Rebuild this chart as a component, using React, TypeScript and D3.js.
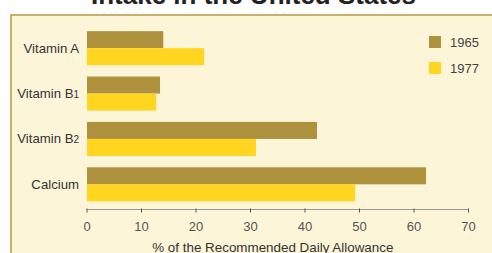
import React from "react";
import * as d3 from "d3";

const categories = ["Vitamin A", "Vitamin B1", "Vitamin B2", "Calcium"];
const labelMain = ["Vitamin A", "Vitamin B", "Vitamin B", "Calcium"];
const labelSub = ["", "1", "2", ""];
const series = ["1965", "1977"];
const values1965 = [14, 13.4, 42.2, 62.2];
const values1977 = [21.5, 12.7, 31, 49.2];
const xTicks = [0, 10, 20, 30, 40, 50, 60, 70];
const title = "Intake in the United States";
const xTitle = "% of the Recommended Daily Allowance";

const colors = ["#AD913D", "#FFD520"];
const W = 492;
const H = 253;

export default function App() {
  const x = d3.scaleLinear().domain([0, 70]).range([87, 468.5]);
  const y = d3
    .scaleBand<string>()
    .domain(categories)
    .range([25.5, 207])
    .paddingInner(0.25)
    .paddingOuter(0.125);
  const sub = d3.scaleBand<string>().domain(series).range([0, y.bandwidth()]);
  const data = [values1965, values1977];
  const font = "Liberation Sans, Arial, Helvetica, sans-serif";
  const axisY = 209.5;

  return (
    <svg
      width={W}
      height={H}
      style={{ position: "absolute", left: 0, top: 0, fontFamily: font }}
    >
      <rect x={0} y={0} width={W} height={H} fill="#ffffff" />
      <text
        x={253.5}
        y={4}
        textAnchor="middle"
        fontSize={26}
        fontWeight="bold"
        fill="#222"
      >
        {title}
      </text>
      <rect
        x={11}
        y={15}
        width={W + 10}
        height={H + 10}
        fill="#FDF5D8"
        stroke="#B8993F"
        strokeWidth={1.5}
      />
      {categories.map((c, i) => (
        <g key={c}>
          {series.map((s, j) => (
            <rect
              key={s}
              x={x(0)}
              y={(y(c) ?? 0) + (sub(s) ?? 0)}
              width={x(data[j][i]) - x(0)}
              height={sub.bandwidth()}
              fill={colors[j]}
            />
          ))}
          <text
            x={79}
            y={(y(c) ?? 0) + y.bandwidth() / 2}
            dy="0.33em"
            textAnchor="end"
            fontSize={13.2}
            fill="#333"
          >
            {labelMain[i]}
            {labelSub[i] && <tspan fontSize={10}>{labelSub[i]}</tspan>}
          </text>
        </g>
      ))}
      <line x1={x(0)} x2={x(70)} y1={axisY} y2={axisY} stroke="#9a9a9a" strokeWidth={1} />
      {xTicks.map((t) => (
        <g key={t}>
          <line x1={x(t)} x2={x(t)} y1={axisY - 1} y2={axisY + 3} stroke="#555" strokeWidth={1} />
          <text
            x={x(t)}
            y={226}
            dy="0.35em"
            textAnchor="middle"
            fontSize={13}
            fill="#555"
          >
            {t}
          </text>
        </g>
      ))}
      <text x={272.8} y={251.5} textAnchor="middle" fontSize={13.4} fill="#333">
        {xTitle}
      </text>
      {series.map((s, j) => (
        <g key={s}>
          <rect x={429} y={36 + j * 26} width={12} height={12} fill={colors[j]} />
          <text x={450} y={42 + j * 26} dy="0.35em" fontSize={13} fill="#444">
            {s}
          </text>
        </g>
      ))}
    </svg>
  );
}
